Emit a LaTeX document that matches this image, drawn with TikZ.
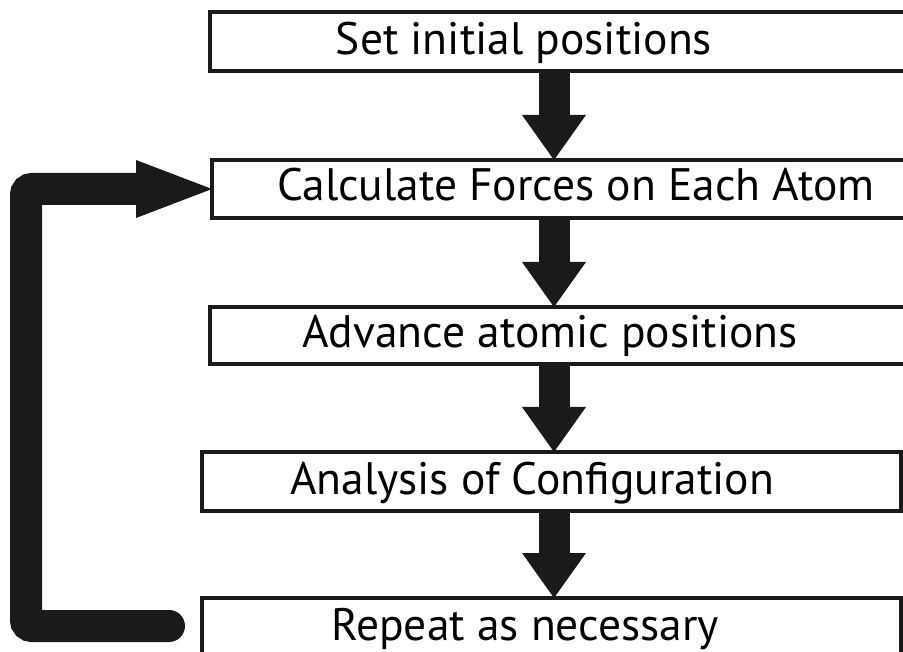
\documentclass[tikz,border=0pt]{standalone}
\usepackage{fontspec}
\setmainfont{PT Sans}
\usetikzlibrary{arrows.meta,calc}
\definecolor{ink}{HTML}{1A1A1A}
\begin{document}
\begin{tikzpicture}[x=1pt,y=-1pt,
  box/.style={draw=ink, line width=3.5pt, fill=white, inner sep=0pt, outer sep=0pt, anchor=north west},
  lbl/.style={anchor=base, inner sep=0pt, font=\fontsize{45.5}{50}\selectfont, text=black},
  flow/.style={draw=ink, line width=31pt, -{Triangle[width=64pt,length=45pt,line width=0pt]}},
  loopline/.style={draw=ink, line width=32pt, line cap=round, rounded corners=6pt, -{Triangle[width=58pt,length=76pt,line width=0pt]}}
]
\useasboundingbox (0,0) rectangle (903,652);
\clip (0,0) rectangle (903,652);
\fill[white] (0,0) rectangle (903,652);
% boxes
\node[box, minimum width=750pt, minimum height=59pt] (b1) at (210,12) {};
\node[box, minimum width=748pt, minimum height=58pt] (b2) at (212,160) {};
\node[box, minimum width=750pt, minimum height=57pt] (b3) at (210,307) {};
\node[box, minimum width=699pt, minimum height=59pt] (b4) at (202,452) {};
\node[box, minimum width=699pt, minimum height=72pt] (b5) at (202,598) {};
% labels
\node[lbl] (t1) at (524,55) {Set initial positions};
\node[lbl] (t2) at (576,201) {Calculate Forces on Each Atom};
\node[lbl] (t3) at (550,348) {Advance atomic positions};
\node[lbl] (t4) at (532,494) {Analysis of Configuration};
\node[lbl] (t5) at (525,640) {Repeat as necessary};
% flow arrows
\coordinate (ax) at (554,0);
\draw[flow] (b1.south -| ax) -- (b2.north -| ax);
\draw[flow] (b2.south -| ax) -- (b3.north -| ax);
\draw[flow] (b3.south -| ax) -- (b4.north -| ax);
\draw[flow] (b4.south -| ax) -- (b5.north -| ax);
% loop back
\coordinate (ls) at (169,626);
\coordinate (lc) at (26,626);
\draw[loopline] (ls) -- (lc) -- (lc |- b2.west) -- (b2.west);
\end{tikzpicture}
\end{document}
